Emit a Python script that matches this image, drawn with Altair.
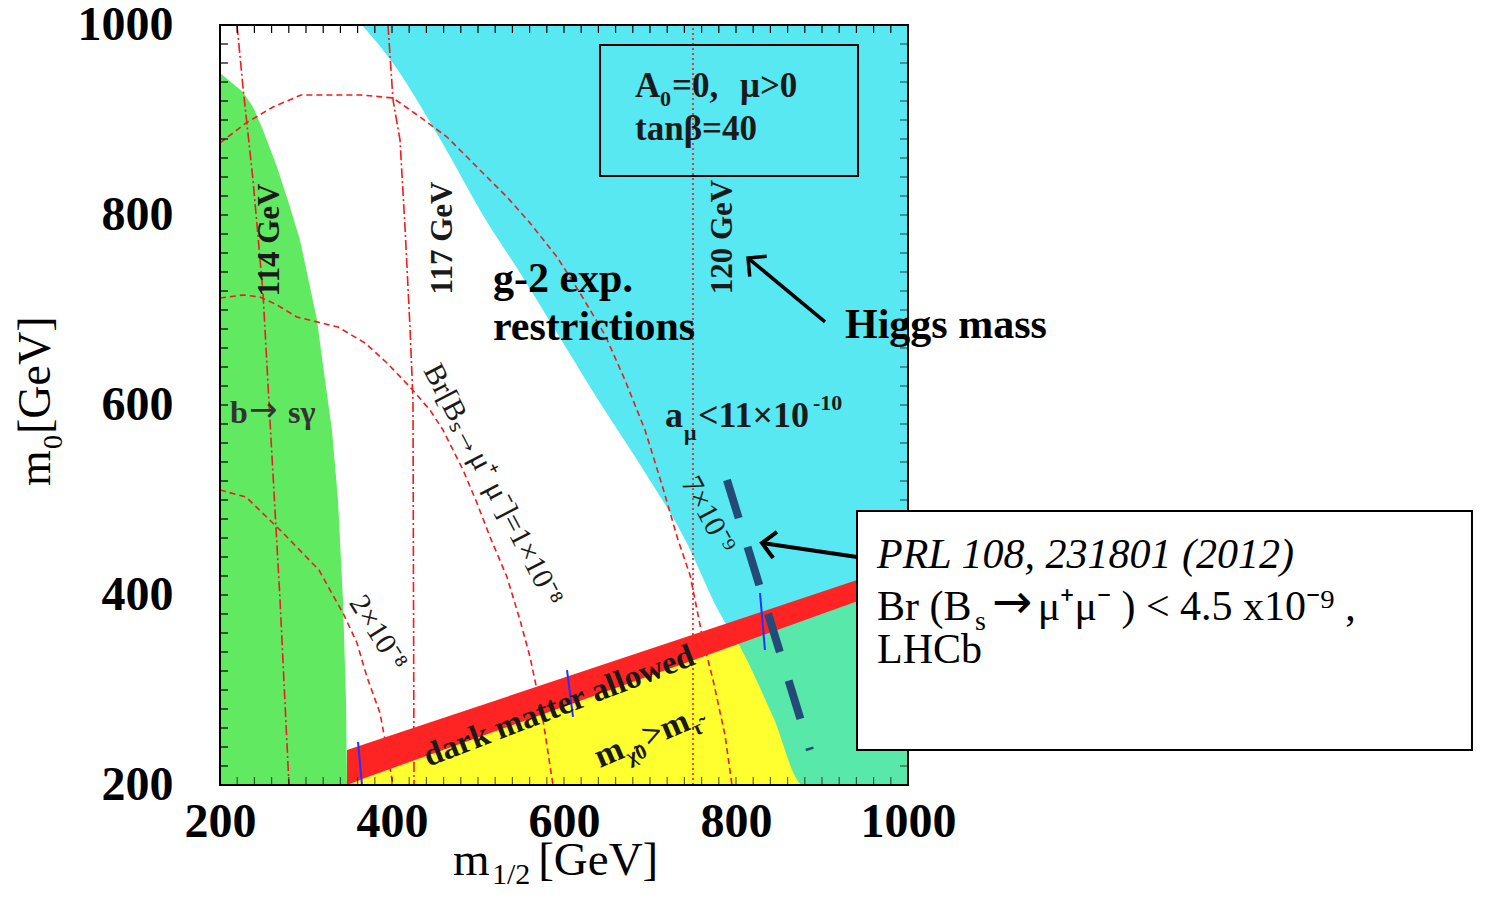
import math

import altair as alt
import pandas as pd

# plot area (px) and axis ranges (GeV)
W, H = 688, 760
X0, X1, Y0, Y1 = 200, 1000, 200, 1000
KX, KY = W / (X1 - X0), H / (Y1 - Y0)
SERIF = "Liberation Serif"
ARROWFONT = "DejaVu Sans"
RED = "#ee1c1c"
INK = "#1a1a1a"

ticks = [200, 400, 600, 800, 1000]
minor = list(range(220, 1000, 20))

# regions: (m_1/2, m_0) in GeV
bsg_m0 = [949.5, 929.5, 913.7, 889.5, 850.5, 808.4, 773.7, 724.2, 689.5, 626.3, 573.7, 500, 394.7, 289.5, 200]
bsg_m12 = [200, 226.7, 238.4, 250, 266.3, 281.4, 293, 304.7, 312.8, 322.1, 330.2, 337.2, 343, 346.5, 347.7]

g2_m12 = [365, 401, 452, 509, 549, 604, 642, 690, 741, 781, 805, 843, 878, 1000]
g2_m0 = [1000, 960, 886, 795, 739, 658, 602, 535, 458, 381, 345, 272, 200, 200]

dm_m12 = [347.7, 368.6, 1000]
dm_lo = [200, 207.4, 412.6]
dm_hi = [236.8, 243.1, 433.7]

# Higgs mass contours
h114_m12 = [219.8, 226.7, 238.4, 250, 258.1, 269.8, 280.2]
h114_m0 = [1000, 934.7, 836.8, 717.9, 584.2, 394.7, 200]
h117_m12 = [395.3, 401.2, 409.3, 415.1, 420.9, 424.4, 425.6]
h117_m0 = [1000, 921, 879, 787.4, 682.1, 605.3, 200]
h120_m12 = [750, 750]
h120_m0 = [200, 1000]

# Br(Bs -> mu mu) contours
br7_m12 = [200, 230.2, 261.6, 294.2, 364, 401.2, 432.6, 464, 498.8, 533.7, 560.5, 591.9,
           618.6, 647.7, 670.9, 694.2, 714, 732.6, 746.5, 754.7, 761.6, 773.3, 787.2, 795.3]
br7_m0 = [875.8, 896.8, 913.7, 926.3, 926.3, 923.2, 903.2, 882.1, 850.5, 818.9, 791.6, 755.8,
          717.9, 673.7, 626.3, 573.7, 515.8, 457.9, 421.1, 384.2, 352.6, 310.5, 252.6, 200]
br10_m12 = [200, 226.7, 246.5, 266.3, 289.5, 337.2, 368.6, 394.2, 420.9, 444.2, 459.3, 482.6,
            498.8, 514, 533.7, 548.8, 560.5, 568.6, 575.6, 587.2]
br10_m0 = [712.6, 715.8, 713.7, 705.3, 692.6, 682.1, 665.3, 644.2, 618.9, 594.7, 573.7, 531.6,
           496.8, 461.1, 418.9, 373.7, 334.7, 300, 268.4, 200]
br20_m12 = [200, 230.2, 273.3, 315.1, 327.9, 343, 359.3, 370.9, 386, 391.9, 401.2]
br20_m0 = [510.5, 503.2, 465.3, 426.3, 405.3, 381.1, 349.5, 313.7, 275.8, 247.4, 200]

# short blue marks on the dark matter strip
blue_m12 = [[360.5, 365.1], [603.5, 610.5], [827.9, 833.7]]
blue_m0 = [[245.3, 200], [321, 271.6], [402.1, 342.1]]

# LHCb limit (thick dashed)
lhcb_m12 = [789.5, 886.0]
lhcb_m0 = [521.1, 236.8]

xsc = alt.Scale(domain=[X0, X1], nice=False, zero=False)
ysc = alt.Scale(domain=[Y0, Y1], nice=False, zero=False)
axis_kw = dict(title=None, values=ticks, format="d", ticks=False, tickSize=0, domain=False,
               grid=False, labelFlush=False, labelOverlap=False, labelFont=SERIF,
               labelFontSize=48, labelFontWeight="bold", labelColor="black")


def X(f="x"):
    return alt.X(f, type="quantitative", scale=xsc, axis=alt.Axis(labelPadding=13, **axis_kw))


def Y(f="y"):
    return alt.Y(f, type="quantitative", scale=ysc, axis=alt.Axis(labelPadding=47, **axis_kw))


def frame(**cols):
    n = len(next(iter(cols.values())))
    return pd.DataFrame(dict(cols, i=list(range(n))))


def curve(m12, m0, color=RED, dash=(6, 4), width=1.6):
    return alt.Chart(frame(x=m12, y=m0)).mark_line(
        color=color, strokeDash=list(dash), strokeWidth=width).encode(X(), Y(), order="i:Q")


def label(text, x, y, size, weight="normal", angle=0, align="left", baseline="alphabetic",
          style="normal", color=INK, dx=0, dy=0, font=SERIF):
    return alt.Chart(frame(x=[x], y=[y], t=[text])).mark_text(
        font=font, fontSize=size, fontWeight=weight, fontStyle=style, angle=angle,
        align=align, baseline=baseline, color=color, dx=dx, dy=dy).encode(X(), Y(), text="t:N")


HEAD = "M -1 -1 L 0 0 L -1 1"


def arrow(tail, tip, width):
    df = frame(x=[tail[0], tip[0]], y=[tail[1], tip[1]])
    ang = math.degrees(math.atan2(-(tip[1] - tail[1]) * KY, (tip[0] - tail[0]) * KX)) % 360
    line = alt.Chart(df).mark_line(color="black", strokeWidth=width).encode(X(), Y(), order="i:Q")
    head = alt.Chart(df.iloc[[1]]).mark_point(
        shape=HEAD, filled=False, color="black", strokeWidth=width, size=700,
        angle=ang, opacity=1).encode(X(), Y())
    return [line, head]


def box(x, x2, y, y2, fill="transparent"):
    return alt.Chart(frame(x=[x], x2=[x2], y=[y], y2=[y2])).mark_rect(
        fill=fill, stroke="black", strokeWidth=2).encode(X(), alt.X2("x2"), Y(), alt.Y2("y2"))


layers = []

# b -> s gamma excluded (green)
layers.append(alt.Chart(frame(y=bsg_m0, x=[X0] * len(bsg_m0), x2=bsg_m12)).mark_area(
    orient="horizontal", color="#62e962").encode(Y(), X(), alt.X2("x2")))
# stau LSP (yellow)
layers.append(alt.Chart(frame(x=dm_m12, y=dm_lo, y2=[Y0] * len(dm_m12))).mark_area(
    color="#ffff30").encode(X(), Y(), alt.Y2("y2")))
# g-2 (cyan)
layers.append(alt.Chart(frame(x=g2_m12, y=g2_m0, y2=[Y1] * len(g2_m12))).mark_area(
    color="#00dcea", opacity=0.66, interpolate="monotone").encode(X(), Y(), alt.Y2("y2")))

# contours
layers.append(curve(h114_m12, h114_m0, dash=(10, 3, 2, 3)))
layers.append(curve(h117_m12, h117_m0, dash=(10, 3, 2, 3)))
layers.append(curve(h120_m12, h120_m0, dash=(2, 3)))
layers.append(curve(br7_m12, br7_m0))
layers.append(curve(br10_m12, br10_m0))
layers.append(curve(br20_m12, br20_m0))

# dark matter allowed strip
layers.append(alt.Chart(frame(x=dm_m12, y=dm_lo, y2=dm_hi)).mark_area(
    color="#ff2424").encode(X(), Y(), alt.Y2("y2")))

for bx, by in zip(blue_m12, blue_m0):
    layers.append(curve(bx, by, color="#2233ff", dash=(1, 0), width=2))

layers.append(curve(lhcb_m12, lhcb_m0, color="#244a78", dash=(40, 30), width=8))

# inner ticks on all four sides
tl = 8
layers.append(alt.Chart(frame(y=minor, x=[X0] * len(minor), x2=[X0 + tl / KX] * len(minor)))
              .mark_rule(color="black", strokeWidth=1.2).encode(Y(), X(), alt.X2("x2")))
layers.append(alt.Chart(frame(y=minor, x=[X1 - tl / KX] * len(minor), x2=[X1] * len(minor)))
              .mark_rule(color="black", strokeWidth=1.2, opacity=0.6).encode(Y(), X(), alt.X2("x2")))
layers.append(alt.Chart(frame(x=minor, y=[Y1 - tl / KY] * len(minor), y2=[Y1] * len(minor)))
              .mark_rule(color="black", strokeWidth=1.2).encode(X(), Y(), alt.Y2("y2")))
layers.append(alt.Chart(frame(x=minor, y=[Y0] * len(minor), y2=[Y0 + tl / KY] * len(minor)))
              .mark_rule(color="black", strokeWidth=1.2, opacity=0.6).encode(X(), Y(), alt.Y2("y2")))

layers.append(box(X0, X1, Y0, Y1))
layers.append(box(641.9, 941.9, 841.1, 978.9))

# labels inside the plot
layers.append(label("A", 682.6, 924.2, 35, "bold"))
layers.append(label("0", 711.6, 914.7, 22, "bold"))
layers.append(label("=0,", 725.6, 924.2, 35, "bold"))
layers.append(label("μ>0", 804.7, 924.2, 35, "bold"))
layers.append(label("tanβ=40", 682.6, 878.9, 35, "bold"))

layers.append(label("114 GeV", 258.1, 773.7, 31, "bold", angle=270, align="center", baseline="middle"))
layers.append(label("117 GeV", 459.3, 775.8, 31, "bold", angle=270, align="center", baseline="middle"))
layers.append(label("120 GeV", 784.9, 776.8, 31, "bold", angle=270, align="center", baseline="middle"))
layers.append(label("b", 211.6, 581, 32, "bold", color="#333333"))
layers.append(label("→", 233.7, 583, 34, color="#333333", font=ARROWFONT))
layers.append(label("sγ", 279.1, 581, 32, "bold", color="#333333"))
layers.append(label("Br[Bₛ→μ⁺ μ⁻]=1×10⁻⁸", 517.4, 515.8, 30, angle=62.5,
                    align="center", baseline="middle"))
layers.append(label("2×10⁻⁸", 383.7, 360, 30, angle=58, align="center", baseline="middle"))
layers.append(label("7×10⁻⁹", 767.4, 484.2, 30, angle=62, align="center", baseline="middle"))

layers.append(label("a", 717.4, 576.8, 36, "bold"))
layers.append(label("μ", 739.5, 563.2, 22, "bold"))
layers.append(label("<11×10", 755.8, 576.8, 36, "bold"))
layers.append(label("-10", 889.5, 594.7, 22, "bold"))

layers.append(label("dark matter allowed", 594.2, 283.2, 33, "bold", angle=339,
                    align="center", baseline="middle"))
layers.append(label("m", 641.9, 217.9, 34, "bold", angle=337))
layers.append(label("χ̃0", 641.9, 217.9, 21, "bold", angle=337, dx=29, dy=8))
layers.append(label(">m", 641.9, 217.9, 34, "bold", angle=337, dx=52))
layers.append(label("τ̃", 641.9, 217.9, 21, "bold", angle=337, dx=100, dy=8))

layers.append(label("g-2 exp.", 517.4, 718.9, 42, "bold", color="black"))
layers.append(label("restrictions", 517.4, 668.4, 42, "bold", color="black"))
layers.append(label("Higgs mass", 926.7, 670.5, 42, "bold", color="black"))

# LHCb box
layers.append(box(940.7, 1655.8, 236.8, 488.4, fill="white"))
layers.append(label("PRL 108, 231801 (2012)", 963.95, 428.4, 42, style="italic", color="black"))
layers.append(label("Br (B", 963.95, 373.7, 42, color="black"))
layers.append(label("s", 1078.0, 363.2, 28, color="black"))
layers.append(label("→", 1097.6, 375.8, 48, color="black", font=ARROWFONT))
layers.append(label("μ⁺μ⁻ ) < 4.5 x10⁻⁹ ,", 1151.0, 373.7, 42, color="black"))
layers.append(label("LHCb", 963.95, 328.4, 42, color="black"))

layers += arrow((903.5, 687.4), (814.0, 754.7), 3.5)
layers += arrow((940.7, 440.0), (830.2, 454.7), 4)

# axis titles
layers.append(label("m", 470.9, 105.3, 47, color="black"))
layers.append(label("1/2", 516.3, 95.8, 30, color="black"))
layers.append(label("[GeV]", 570.0, 105.3, 47, color="black"))
layers.append(label("m", 2.3, 514.7, 46, angle=270, color="black"))
layers.append(label("0", 16.3, 553.7, 28, angle=270, color="black"))
layers.append(label("[GeV]", 2.3, 569.5, 46, angle=270, color="black"))

chart = alt.layer(*layers).properties(
    width=W, height=H,
    autosize=alt.AutoSizeParams(type="none"),
    padding={"left": 212, "top": 17, "right": 566, "bottom": 103},
    background="white",
).configure_view(stroke=None)

chart.save("out.html", embed_options={"renderer": "svg", "actions": False})
